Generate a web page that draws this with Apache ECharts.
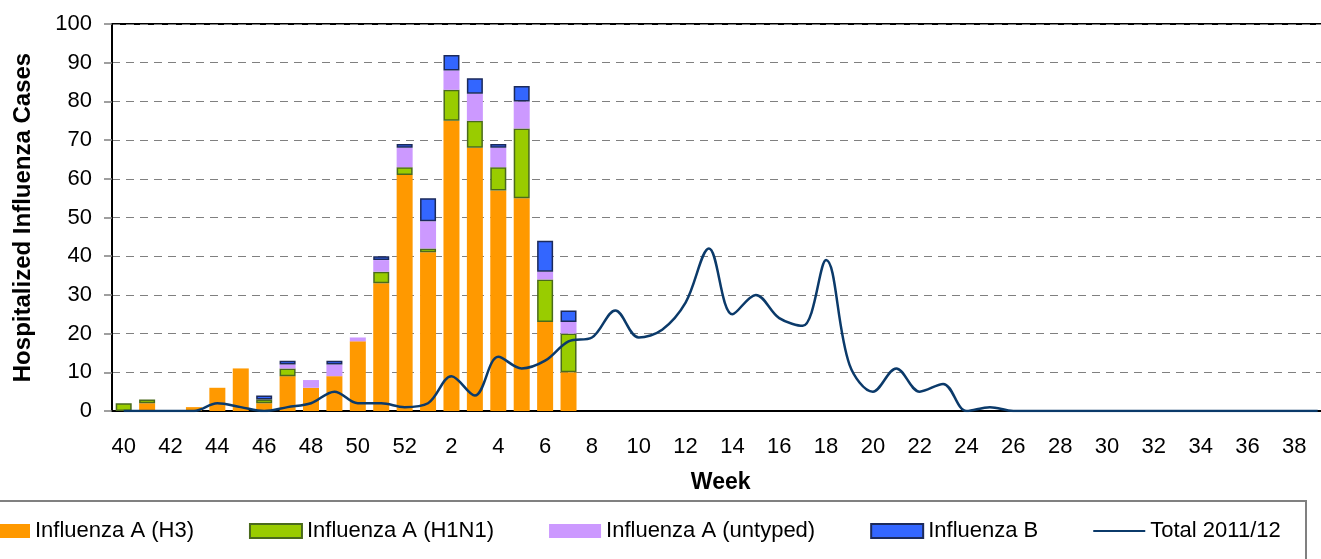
<!DOCTYPE html>
<html>
<head>
<meta charset="utf-8">
<script src="https://cdn.jsdelivr.net/npm/echarts@6/dist/echarts.min.js"></script>
<style>
  html, body { margin: 0; padding: 0; background: #fff; }
  #chart { width: 1321px; height: 559px; }
</style>
</head>
<body>
<div id="chart"></div>
<script>
// weeks of the 2011/12 season
const weeks = ['40','41','42','43','44','45','46','47','48','49','50','51','52',
  '1','2','3','4','5','6','7','8','9','10','11','12','13','14','15','16','17','18','19','20',
  '21','22','23','24','25','26','27','28','29','30','31','32','33','34','35','36','37','38','39']

// stacked bars (cases per week), only weeks 40..7 have bars
const fluH3 =      [0,2,0,1,6,11,2,9,6,9,18,33,61, 41,75,68,57,55,23,10]
const fluH1N1 =    [2,1,0,0,0,0,1,2,0,0,0,3,2,    1,8,7,6,18,11,10]
const fluUntyped = [0,0,0,0,0,0,0,1,2,3,1,3,5,    7,5,7,5,7,2,3]
const fluB =       [0,0,0,0,0,0,1,1,0,1,0,1,1,    6,4,4,1,4,8,3]

// total 2011/12 line
const total = [0,0,0,0,2,1,0,1,2,5,2,2,1,
  2,9,4,14,11,13,18,19,26,19,21,28,42,25,30,24,22,39,12,5,
  11,5,7,0,1,0,0,0,0,0,0,0,0,0,0,0,0,0,0]

const font = 'Liberation Sans, Arial, sans-serif'
// empty weeks get no bar (otherwise the bordered series draw a flat line)
const nz = arr => weeks.map((w, i) => (arr[i] ? arr[i] : null))

const chart = echarts.init(document.getElementById('chart'))

const option = {
  animation: false,
  backgroundColor: '#fff',
  textStyle: { fontFamily: font },
  grid: {
    left: 112,
    top: 24,
    width: 1217.4,
    height: 387,
    outerBoundsMode: 'none',
    containLabel: false,
    show: true,
    borderColor: '#000',
    borderWidth: 2,
    backgroundColor: 'transparent'
  },
  legend: {
    left: -22,
    top: 520,
    padding: 0,
    itemWidth: 52,
    itemHeight: 14,
    itemGap: 55,
    icon: 'rect',
    textStyle: { fontSize: 22, color: '#000', fontFamily: font },
    data: [
      'Influenza A (H3)',
      'Influenza A (H1N1)',
      'Influenza A (untyped)',
      'Influenza B',
      { name: 'Total 2011/12', icon: 'path://M0,0L52,0L52,2L0,2Z' }
    ]
  },
  graphic: [{
    type: 'rect',
    z: -1,
    shape: { x: -5, y: 501, width: 1311, height: 100 },
    style: { fill: 'none', stroke: '#808080', lineWidth: 2 }
  }],
  xAxis: {
    type: 'category',
    data: weeks,
    boundaryGap: true,
    name: 'Week',
    nameLocation: 'middle',
    nameGap: 60,
    nameTextStyle: { fontSize: 23, fontWeight: 'bold', color: '#000', fontFamily: font },
    axisLine: { lineStyle: { color: '#000', width: 2 } },
    axisTick: { interval: 0, length: 8, lineStyle: { color: '#808080', width: 1.5 } },
    axisLabel: { interval: 1, margin: 25, fontSize: 22, color: '#000', fontFamily: font }
  },
  yAxis: {
    type: 'value',
    min: 0,
    max: 100,
    interval: 10,
    name: 'Hospitalized Influenza Cases',
    nameLocation: 'middle',
    nameGap: 77,
    nameTextStyle: { fontSize: 24, fontWeight: 'bold', color: '#000', fontFamily: font },
    axisLine: { show: true, lineStyle: { color: '#000', width: 2 } },
    axisTick: { show: true, length: 8, lineStyle: { color: '#808080', width: 1.5 } },
    axisLabel: { margin: 20, fontSize: 22, color: '#000', fontFamily: font },
    splitLine: { lineStyle: { color: '#808080', type: [8, 6], width: 1 } }
  },
  series: [
    {
      name: 'Influenza A (H3)',
      type: 'bar',
      stack: 'flu',
      barWidth: 16,
      data: nz(fluH3),
      itemStyle: { color: '#FF9900' }
    },
    {
      name: 'Influenza A (H1N1)',
      type: 'bar',
      stack: 'flu',
      barWidth: 16,
      data: nz(fluH1N1),
      itemStyle: { color: '#99CC00', borderColor: '#4a6a1c', borderWidth: 1.5 }
    },
    {
      name: 'Influenza A (untyped)',
      type: 'bar',
      stack: 'flu',
      barWidth: 16,
      data: nz(fluUntyped),
      itemStyle: { color: '#CC99FF' }
    },
    {
      name: 'Influenza B',
      type: 'bar',
      stack: 'flu',
      barWidth: 16,
      data: nz(fluB),
      itemStyle: { color: '#3366FF', borderColor: '#1c2a5a', borderWidth: 1.5 }
    },
    {
      name: 'Total 2011/12',
      type: 'line',
      data: total,
      smooth: 0.35,
      symbol: 'none',
      z: 5,
      lineStyle: { color: '#0b3a6a', width: 2.5 },
      itemStyle: { color: '#0b3a6a' }
    }
  ]
}

chart.setOption(option)
</script>
</body>
</html>
